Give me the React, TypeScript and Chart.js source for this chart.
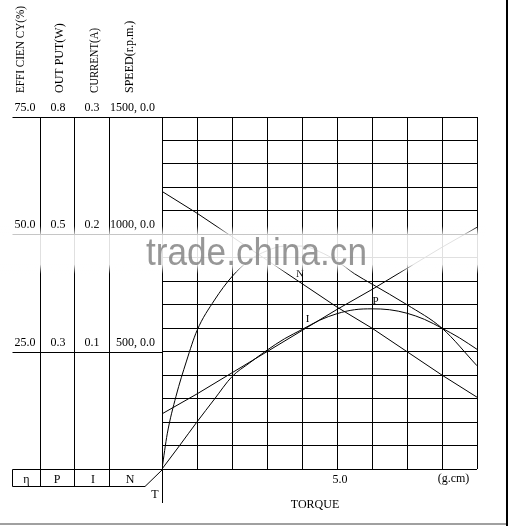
import React, { useEffect, useRef } from "react";
import { Chart, registerables } from "chart.js";

Chart.register(...registerables);

// efficiency curve (g.cm -> %)
const effTorque = [0, 0.15, 0.4, 0.7, 1, 1.5, 2, 2.5, 3, 3.5, 4, 4.5, 5, 5.5, 6, 7, 8, 9];
const efficiency = [0, 7.5, 15.5, 23, 29.5, 36, 41, 44.5, 46.5, 47.5, 47.5, 46.3, 44.3, 41.6, 39.4, 35, 30, 22];

// output curve (g.cm -> W)
const outTorque = [0, 0.5, 1, 1.5, 2, 2.5, 3, 3.5, 4, 4.5, 5, 5.5, 6, 6.5, 7, 7.5, 8, 8.5, 9];
const output = [0, 0.053, 0.107, 0.159, 0.21, 0.241, 0.27, 0.296, 0.317, 0.338, 0.353, 0.362, 0.364, 0.362, 0.354, 0.34, 0.32, 0.298, 0.272];

// current and speed lines (g.cm -> A, r.p.m.)
const lineTorque = [0, 1, 2, 3, 4, 5, 6, 7, 8, 9];
const current = [0.047, 0.064, 0.082, 0.1, 0.118, 0.136, 0.153, 0.171, 0.189, 0.206];
const speed = [1183, 1090, 990, 890, 790, 690, 600, 500, 400, 306];

// left panel tick labels
const tickLevels = [75, 50, 25];
const effTicks = ["75.0", "50.0", "25.0"];
const outTicks = ["0.8", "0.5", "0.3"];
const curTicks = ["0.3", "0.2", "0.1"];
const spdTicks = ["1500, 0.0", "1000, 0.0", "500, 0.0"];

const axisTitles = ["EFFI CIEN CY(%)", "OUT PUT(W)", "CURRENT(A)", "SPEED(r.p.m.)"];
const boxLabels = ["η", "P", "I", "N"];

const FONT = "12px 'Liberation Serif', 'Times New Roman', serif";

const crisp = (v: number) => Math.round(v) + 0.5;

const extras = {
	id: "extras",
	afterDraw(chart: any) {
		const { ctx, scales } = chart;
		const xs = scales.x;
		const ys = scales.yEff;
		const ax = crisp(xs.getPixelForValue(0));
		const yTop = crisp(ys.getPixelForValue(75));
		const y0 = crisp(ys.getPixelForValue(0));
		const left = 12.5;
		const boxBottom = 486.5;

		ctx.save();
		ctx.strokeStyle = "#000";
		ctx.lineWidth = 1;
		ctx.beginPath();
		// horizontal lines of the left panel
		[75, 50, 25, 0].forEach((v) => {
			const py = crisp(ys.getPixelForValue(v));
			ctx.moveTo(left, py);
			ctx.lineTo(ax, py);
		});
		// column dividers
		[40, 74, 109].forEach((cx) => {
			ctx.moveTo(cx + 0.5, yTop);
			ctx.lineTo(cx + 0.5, boxBottom);
		});
		// bottom box and diagonal
		ctx.moveTo(left, y0);
		ctx.lineTo(left, boxBottom);
		ctx.lineTo(145, boxBottom);
		ctx.lineTo(ax, y0);
		// axis extension
		ctx.moveTo(ax, y0);
		ctx.lineTo(ax, 503);
		ctx.stroke();

		ctx.fillStyle = "#000";
		ctx.font = FONT;
		ctx.textBaseline = "alphabetic";

		// tick labels
		tickLevels.forEach((v, i) => {
			const py = ys.getPixelForValue(v) - 6;
			ctx.textAlign = "center";
			ctx.fillText(effTicks[i], 25, py);
			ctx.fillText(outTicks[i], 58, py);
			ctx.fillText(curTicks[i], 92, py);
			ctx.textAlign = "right";
			ctx.fillText(spdTicks[i], 155, py);
		});

		// rotated axis titles
		const titleX = [21, 60, 94.5, 130];
		const titleW = [87, 72, 65, 73];
		axisTitles.forEach((t, i) => {
			ctx.save();
			ctx.translate(titleX[i], 93);
			ctx.rotate(-Math.PI / 2);
			ctx.textAlign = "left";
			ctx.textBaseline = "middle";
			ctx.fillText(t, 0, 0, titleW[i]);
			ctx.restore();
		});

		// box labels
		ctx.textAlign = "center";
		const boxX = [26.5, 57, 93, 130];
		boxLabels.forEach((t, i) => ctx.fillText(t, boxX[i], 483));

		ctx.fillText("T", 155, 497.5);
		ctx.fillText("5.0", xs.getPixelForValue(5) + 3, 483);
		ctx.fillText("(g.cm)", 453.5, 482);
		ctx.fillText("TORQUE", 315, 508);

		// curve labels
		ctx.font = "11px 'Liberation Serif', 'Times New Roman', serif";
		ctx.fillText("I", 307.5, 322);
		ctx.fillText("P", 375.5, 303.5);
		ctx.fillText("N", 300, 277);

		// frame edges
		ctx.fillStyle = "#000";
		ctx.fillRect(506, 0, 2, 526);
		ctx.fillStyle = "#a0a0a0";
		ctx.fillRect(0, 523, 506, 2);

		// watermark band that washes out the lines beneath it
		const band = ctx.createLinearGradient(0, 226, 0, 274);
		band.addColorStop(0, "rgba(255,255,255,0)");
		band.addColorStop(0.2, "rgba(255,255,255,0.88)");
		band.addColorStop(0.8, "rgba(255,255,255,0.88)");
		band.addColorStop(1, "rgba(255,255,255,0)");
		ctx.fillStyle = band;
		ctx.fillRect(0, 226, 486, 48);

		// watermark
		ctx.font = "38px 'Liberation Sans', Arial, sans-serif";
		ctx.fillStyle = "rgba(125,125,125,0.8)";
		ctx.textAlign = "left";
		ctx.fillText("trade.china.cn", 146, 265, 221);
		ctx.restore();
	},
};

const App: React.FC = () => {
	const chartRef = useRef<HTMLCanvasElement>(null);
	const chartInstance = useRef<Chart>();

	useEffect(() => {
		if (!chartRef.current) return;
		const ctx = chartRef.current.getContext("2d");
		if (!ctx) return;

		const line = {
			borderColor: "#000",
			borderWidth: 1,
			pointRadius: 0,
			fill: false,
		};

		chartInstance.current = new Chart(ctx, {
			type: "line",
			data: {
				datasets: [
					{
						...line,
						label: "η",
						data: effTorque.map((t, i) => ({ x: t, y: efficiency[i] })),
						yAxisID: "yEff",
						cubicInterpolationMode: "monotone",
					},
					{
						...line,
						label: "P",
						data: outTorque.map((t, i) => ({ x: t, y: output[i] })),
						yAxisID: "yOut",
						cubicInterpolationMode: "monotone",
					},
					{
						...line,
						label: "I",
						data: lineTorque.map((t, i) => ({ x: t, y: current[i] })),
						yAxisID: "yCur",
						tension: 0,
					},
					{
						...line,
						label: "N",
						data: lineTorque.map((t, i) => ({ x: t, y: speed[i] })),
						yAxisID: "ySpd",
						tension: 0,
					},
				],
			},
			options: {
				responsive: false,
				animation: false,
				events: [],
				layout: { padding: { left: 162, right: 32, top: 117, bottom: 57 } },
				plugins: {
					legend: { display: false },
					tooltip: { enabled: false },
				},
				scales: {
					x: {
						type: "linear",
						min: 0,
						max: 9,
						ticks: { stepSize: 1, display: false },
						grid: { color: "#000", lineWidth: 1, drawTicks: false },
						border: { display: false },
					},
					yEff: {
						position: "left",
						min: 0,
						max: 75,
						ticks: { stepSize: 5, display: false },
						grid: { color: "#000", lineWidth: 1, drawTicks: false },
						border: { display: false },
					},
					yOut: { display: false, min: 0, max: 0.8 },
					yCur: { display: false, min: 0, max: 0.3 },
					ySpd: { display: false, min: 0, max: 1500 },
				},
			},
			plugins: [extras],
		});

		return () => {
			if (chartInstance.current) {
				chartInstance.current.destroy();
			}
		};
	}, []);

	return (
		<div style={{ position: "fixed", left: 0, top: 0, width: 509, height: 526, background: "#fff" }}>
			<canvas ref={chartRef} width={509} height={526} style={{ display: "block" }} />
		</div>
	);
};

export default App;
